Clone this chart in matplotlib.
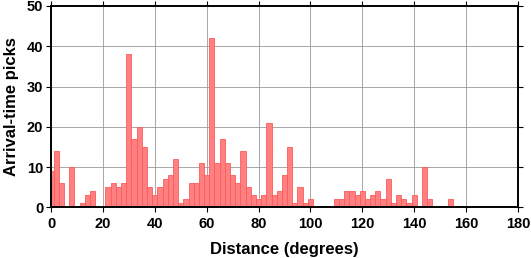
import numpy as np
import matplotlib
matplotlib.use('Agg')
import matplotlib.pyplot as plt

matplotlib.rcParams['font.family'] = ['Liberation Sans', 'DejaVu Sans']

# bin centres (degrees), 2-degree bins
centres = list(range(0, 182, 2))
counts = [9, 14, 6, 0, 10, 0, 1, 3, 4, 0,      # 0-18
          0, 5, 6, 5, 6, 38, 17, 20, 15, 5,    # 20-38
          3, 5, 7, 8, 12, 1, 2, 6, 6, 11,      # 40-58
          8, 42, 11, 17, 11, 8, 6, 14, 5, 3,   # 60-78
          2, 3, 21, 3, 4, 8, 15, 1, 5, 1,      # 80-98
          2, 0, 0, 0, 0, 2, 2, 4, 4, 3,        # 100-118
          4, 2, 3, 4, 2, 7, 1, 3, 2, 1,        # 120-138
          3, 0, 10, 2, 0, 0, 0, 2, 0, 0,       # 140-158
          0, 0, 0, 0, 0, 0, 0, 0, 0, 0,        # 160-178
          0]                                   # 180

fig = plt.figure(figsize=(5.31, 2.58), dpi=100)
ax = fig.add_axes([51/531, 50.7/258, 467/531, 201.3/258])

ax.bar(centres, counts, width=2.0, color='#ff8080', edgecolor='#ff5a5a',
       linewidth=0.6, zorder=3)

ax.set_xlim(0, 180)
ax.set_ylim(0, 50)
ax.set_xticks(np.arange(0, 181, 20))
ax.set_yticks(np.arange(0, 51, 10))
ax.grid(True, color='#999999', linewidth=0.6, zorder=0)

for s in ax.spines.values():
    s.set_linewidth(1.4)
    s.set_color('black')
    s.set_zorder(5)

ax.tick_params(direction='out', length=3.5, width=0.8, top=True, right=True,
               labeltop=False, labelright=False, labelsize=10.5)
ax.tick_params(axis='x', pad=3.5)
ax.tick_params(axis='y', pad=2)
for lab in ax.get_xticklabels() + ax.get_yticklabels():
    lab.set_fontweight('bold')

ax.set_xlabel('Distance (degrees)', fontsize=12, fontweight='bold', labelpad=8)
ax.set_ylabel('Arrival-time picks', fontsize=12, fontweight='bold', labelpad=6)

fig.savefig('out.png', dpi=100)
